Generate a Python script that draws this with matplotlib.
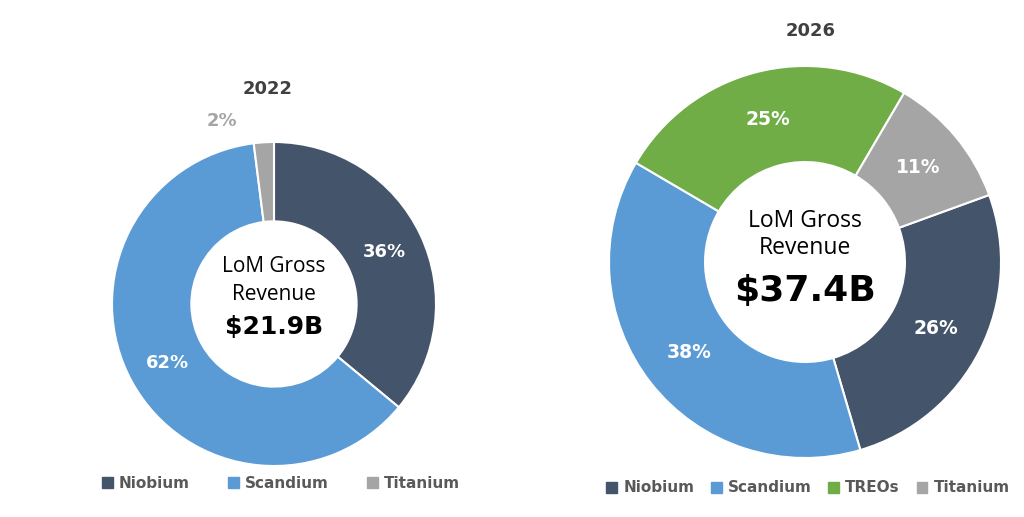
import matplotlib
matplotlib.use("Agg")
import matplotlib.pyplot as plt
from matplotlib.patches import Patch
import numpy as np

plt.rcParams['font.family'] = ['Open Sans', 'DejaVu Sans']

# 2022 split of LoM gross revenue
labels_2022 = ['Niobium', 'Scandium', 'Titanium']
share_2022 = [36, 62, 2]
total_2022 = '$21.9B'

# 2026 split
labels_2026 = ['Niobium', 'Scandium', 'TREOs', 'Titanium']
share_2026 = [26, 38, 25, 11]
total_2026 = '$37.4B'

colors = {'Niobium': '#44546A', 'Scandium': '#5B9BD5',
          'TREOs': '#70AD47', 'Titanium': '#A5A5A5'}

BOLD = ['DejaVu Sans']

W, H = 1024, 517
fig = plt.figure(figsize=(W / 100, H / 100), dpi=100)


def donut_axes(cx, cy, r):
    # square axes around the donut centre (pixel coords, y from top)
    return fig.add_axes([(cx - r) / W, (H - cy - r) / H, 2 * r / W, 2 * r / H])


def draw(ax, labels, vals, start):
    wedges, _ = ax.pie(vals, colors=[colors[l] for l in labels], startangle=start,
                       counterclock=False, radius=1,
                       wedgeprops=dict(width=0.49, edgecolor='white', linewidth=1.5))
    ax.set_xlim(-1, 1)
    ax.set_ylim(-1, 1)
    ax.axis('off')
    return wedges


# ---- left: 2022
ax1 = donut_axes(274, 304, 162)
w1 = draw(ax1, labels_2022, share_2022, 90)
for w, v, lab in zip(w1, share_2022, labels_2022):
    th = np.deg2rad((w.theta1 + w.theta2) / 2)
    if lab == 'Titanium':
        # small slice: label sits outside, up and to the left
        ax1.annotate(f'{v}%', (1.13 * np.cos(th), 1.13 * np.sin(th)), xytext=(-29, 0),
                     textcoords='offset points', ha='center', va='center', family=BOLD,
                     fontsize=13, fontweight='bold', color='#A5A5A5', annotation_clip=False)
    else:
        ax1.text(0.75 * np.cos(th), 0.75 * np.sin(th), f'{v}%', ha='center', va='center',
                 family=BOLD, fontsize=13, fontweight='bold', color='white')
ax1.text(0, 0.23, 'LoM Gross', ha='center', va='center', fontsize=15, color='black')
ax1.text(0, 0.06, 'Revenue', ha='center', va='center', fontsize=15, color='black')
ax1.text(0, -0.14, total_2022, ha='center', va='center', fontsize=18, fontweight='bold',
         family=BOLD, color='black')
ax1.text(-0.04, 1.33, '2022', ha='center', va='center', fontsize=13, fontweight='bold',
         family=BOLD, color='#404040')
ax1.legend(handles=[Patch(color=colors[l], label=l) for l in labels_2022],
           loc='center', bbox_to_anchor=(281 / W, 1 - 483 / H), bbox_transform=fig.transFigure,
           ncol=3, frameon=False, handlelength=0.7, handleheight=0.7, handletextpad=0.4,
           columnspacing=2.5, prop=dict(family=BOLD, size=11, weight='bold'), labelcolor='#595959')

# ---- right: 2026
ax2 = donut_axes(805, 262, 196)
w2 = draw(ax2, labels_2026, share_2026, 20)
for w, v in zip(w2, share_2026):
    th = np.deg2rad((w.theta1 + w.theta2) / 2)
    ax2.text(0.75 * np.cos(th), 0.75 * np.sin(th), f'{v}%', ha='center', va='center',
             family=BOLD, fontsize=13.5, fontweight='bold', color='white')
ax2.text(0, 0.21, 'LoM Gross', ha='center', va='center', fontsize=16.5, color='black')
ax2.text(0, 0.07, 'Revenue', ha='center', va='center', fontsize=16.5, color='black')
ax2.text(0, -0.15, total_2026, ha='center', va='center', fontsize=26, fontweight='bold',
         family=BOLD, color='black')
ax2.text(0.03, 1.18, '2026', ha='center', va='center', fontsize=13, fontweight='bold',
         family=BOLD, color='#404040')
ax2.legend(handles=[Patch(color=colors[l], label=l) for l in labels_2026],
           loc='center', bbox_to_anchor=(808 / W, 1 - 488 / H), bbox_transform=fig.transFigure,
           ncol=4, frameon=False, handlelength=0.7, handleheight=0.7, handletextpad=0.4,
           columnspacing=1.1, prop=dict(family=BOLD, size=11, weight='bold'), labelcolor='#595959')

fig.savefig('out.png', dpi=100)
